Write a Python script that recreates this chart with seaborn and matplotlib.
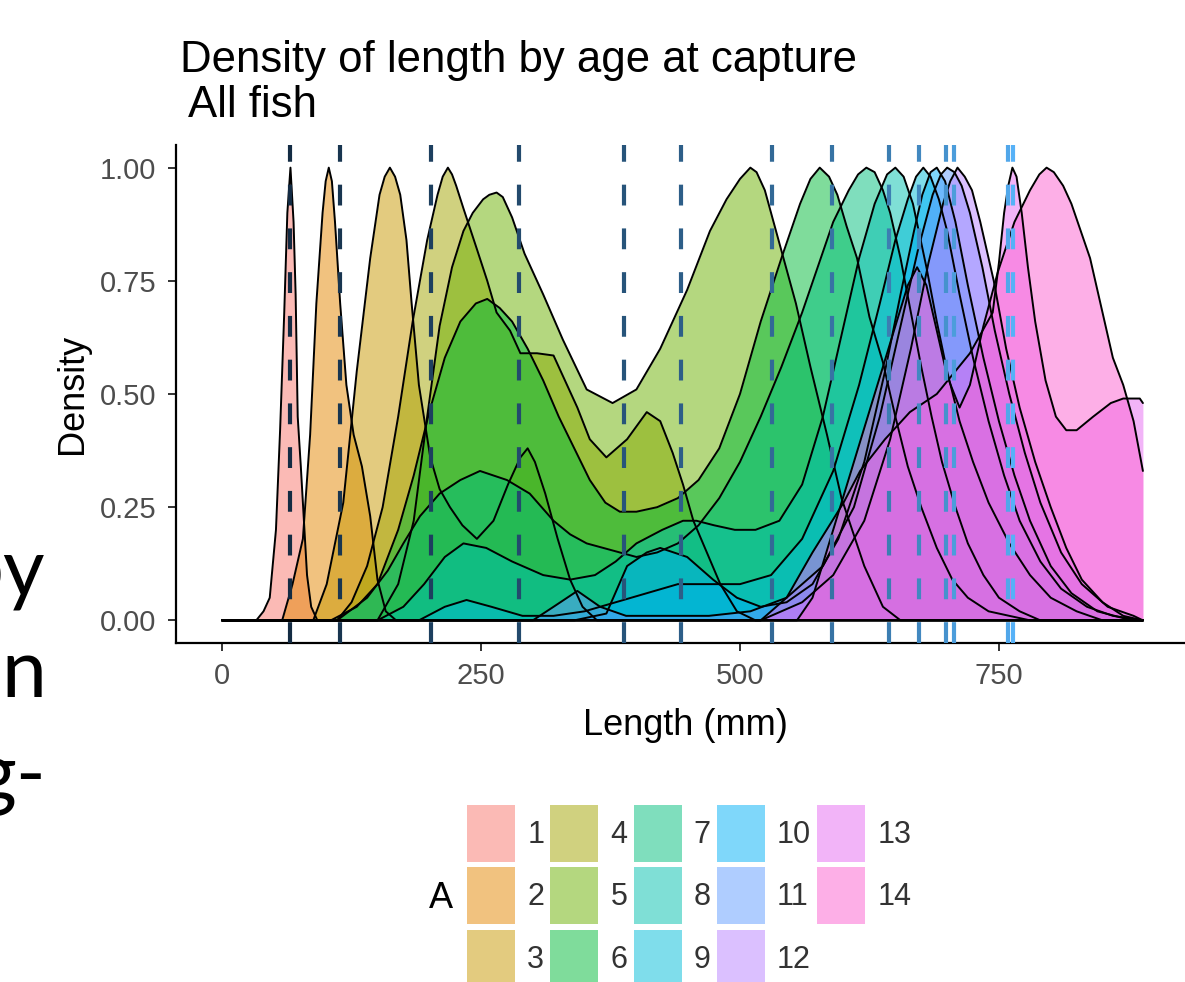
import pandas as pd
import matplotlib
matplotlib.use("Agg")
import matplotlib.pyplot as plt
from matplotlib.patches import Patch
import seaborn as sns

# =========================
# DATA
# =========================
ages = list(range(1, 15))
fill_colors = ["#F8766D", "#E58700", "#C99800", "#A3A500", "#6BB100", "#00BA38", "#00BF7D",
               "#00C0AF", "#00BCD8", "#00B0F6", "#619CFF", "#B983FF", "#E76BF3", "#FD61D1"]
mean_length = [65.6, 113.9, 201.7, 286.7, 388, 443, 531, 589, 644, 673, 699, 707, 759, 764]

x_ticks = [0, 250, 500, 750]
y_ticks = [0, 0.25, 0.5, 0.75, 1.0]
y_tick_labels = ["0.00", "0.25", "0.50", "0.75", "1.00"]

len_a1 = [0, 33, 40, 46, 52, 56, 60, 63, 66, 69, 71, 73, 76, 79, 82, 86, 92, 889]
den_a1 = [0, 0, 0.02, 0.05, 0.2, 0.42, 0.68, 0.9, 1.0, 0.88, 0.72, 0.45, 0.34, 0.22, 0.1, 0.03, 0, 0]

len_a2 = [0, 58, 68, 78, 85, 91, 97, 100, 103, 106, 109, 114, 120, 127, 135, 143, 150, 158, 168, 889]
den_a2 = [0, 0, 0.08, 0.18, 0.41, 0.70, 0.90, 0.97, 1.0, 0.97, 0.88, 0.70, 0.52, 0.41, 0.34, 0.23, 0.09,
          0.02, 0, 0]

len_a3 = [0, 88, 101, 117, 130, 143, 152, 157, 162, 167, 172, 178, 183, 190, 201, 210, 220, 232, 246,
          262, 276, 288, 295, 302, 312, 324, 336, 348, 362, 889]
den_a3 = [0, 0, 0.08, 0.26, 0.55, 0.80, 0.94, 0.98, 1.0, 0.98, 0.94, 0.84, 0.70, 0.52, 0.36, 0.29, 0.25,
          0.21, 0.18, 0.22, 0.30, 0.36, 0.38, 0.35, 0.28, 0.18, 0.09, 0.03, 0, 0]

len_a4 = [0, 111, 125, 140, 155, 170, 184, 198, 208, 213, 218, 222, 226, 233, 246, 256, 265, 278, 288,
          304, 320, 329, 343, 355, 371, 391, 410, 423, 435, 445, 455, 468, 481, 497, 515, 889]
den_a4 = [0, 0, 0.04, 0.12, 0.25, 0.45, 0.66, 0.84, 0.94, 0.98, 1.0, 0.985, 0.96, 0.91, 0.82, 0.75, 0.68,
          0.64, 0.59, 0.59, 0.585, 0.54, 0.47, 0.40, 0.36, 0.40, 0.46, 0.44, 0.37, 0.30, 0.22, 0.15, 0.08,
          0.02, 0, 0]

len_a5 = [0, 150, 170, 185, 198, 210, 222, 233, 242, 252, 258, 265, 271, 280, 292, 310, 329, 352, 377,
          400, 423, 449, 471, 487, 500, 510, 516, 524, 536, 554, 568, 584, 598, 620, 638, 655, 889]
den_a5 = [0, 0, 0.08, 0.22, 0.45, 0.65, 0.78, 0.86, 0.9, 0.93, 0.94, 0.945, 0.935, 0.89, 0.81, 0.72,
          0.62, 0.51, 0.48, 0.51, 0.6, 0.73, 0.86, 0.93, 0.975, 1.0, 0.99, 0.95, 0.85, 0.7, 0.56, 0.41,
          0.27, 0.12, 0.03, 0, 0]

len_a6 = [0, 105, 130, 150, 170, 185, 200, 215, 230, 245, 256, 268, 280, 295, 310, 325, 340, 355,
          370, 384, 400, 420, 440, 460, 480, 500, 520, 540, 558, 568, 577, 586, 594, 603, 613, 625,
          638, 650, 662, 675, 690, 705, 720, 740, 760, 780, 889]
den_a6 = [0, 0, 0.03, 0.08, 0.2, 0.32, 0.46, 0.58, 0.66, 0.70, 0.71, 0.69, 0.66, 0.6, 0.53, 0.45, 0.38,
          0.31, 0.26, 0.24, 0.24, 0.25, 0.27, 0.31, 0.38, 0.5, 0.66, 0.8, 0.92, 0.975, 1.0, 0.98, 0.94,
          0.87, 0.8, 0.67, 0.57, 0.45, 0.34, 0.25, 0.16, 0.09, 0.05, 0.02, 0.01, 0, 0]

len_a7 = [0, 111, 140, 160, 175, 191, 210, 230, 249, 262, 275, 297, 320, 336, 352, 368, 384, 400,
          420, 440, 460, 480, 500, 520, 540, 560, 575, 590, 605, 614, 622, 630, 638, 645, 655, 665,
          675, 685, 695, 708, 720, 735, 750, 770, 790, 889]
den_a7 = [0, 0, 0.05, 0.11, 0.17, 0.23, 0.28, 0.31, 0.33, 0.32, 0.31, 0.28, 0.22, 0.19, 0.17, 0.16,
          0.15, 0.14, 0.15, 0.17, 0.21, 0.27, 0.35, 0.45, 0.56, 0.68, 0.78, 0.88, 0.95, 0.985, 1.0, 0.99,
          0.95, 0.9, 0.8, 0.68, 0.56, 0.45, 0.35, 0.25, 0.17, 0.1, 0.05, 0.02, 0, 0]

len_a8 = [0, 150, 175, 195, 215, 233, 255, 280, 310, 336, 360, 380, 400, 425, 445, 458, 475, 495,
          515, 538, 560, 580, 600, 615, 630, 642, 650, 658, 667, 680, 690, 700, 712, 725, 740, 760,
          780, 800, 825, 850, 889]
den_a8 = [0, 0, 0.03, 0.08, 0.14, 0.17, 0.16, 0.13, 0.1, 0.09, 0.1, 0.13, 0.17, 0.2, 0.22, 0.22, 0.21,
          0.2, 0.2, 0.22, 0.3, 0.45, 0.65, 0.8, 0.92, 0.985, 1.0, 0.98, 0.92, 0.78, 0.66, 0.55, 0.44, 0.35,
          0.26, 0.17, 0.1, 0.05, 0.02, 0, 0]

len_a9 = [0, 190, 215, 236, 260, 290, 320, 350, 380, 410, 440, 470, 500, 530, 560, 590, 615, 635,
          650, 662, 670, 677, 684, 692, 700, 712, 725, 740, 755, 770, 790, 810, 835, 860, 889]
den_a9 = [0, 0, 0.03, 0.045, 0.03, 0.01, 0.01, 0.02, 0.04, 0.06, 0.08, 0.08, 0.08, 0.1, 0.18, 0.33,
          0.52, 0.7, 0.84, 0.93, 0.98, 1.0, 0.98, 0.93, 0.86, 0.72, 0.58, 0.44, 0.32, 0.22, 0.13, 0.07,
          0.03, 0.01, 0]

len_a10 = [0, 340, 371, 391, 410, 423, 449, 474, 497, 520, 545, 570, 595, 620, 640, 655, 668, 676,
           684, 690, 698, 708, 720, 735, 750, 765, 780, 800, 820, 845, 870, 889]
den_a10 = [0, 0, 0.015, 0.12, 0.15, 0.16, 0.14, 0.09, 0.05, 0.03, 0.04, 0.08, 0.18, 0.35, 0.55, 0.72,
           0.86, 0.94, 0.99, 1.0, 0.97, 0.88, 0.74, 0.58, 0.44, 0.32, 0.22, 0.12, 0.06, 0.02, 0.005, 0]

len_a11 = [0, 300, 320, 343, 365, 390, 430, 470, 510, 545, 580, 610, 635, 655, 672, 686, 694, 700,
           707, 714, 722, 734, 746, 760, 775, 790, 810, 830, 855, 880, 889]
den_a11 = [0, 0, 0.03, 0.065, 0.03, 0.01, 0.01, 0.01, 0.02, 0.05, 0.12, 0.25, 0.45, 0.65, 0.82, 0.94,
           0.985, 1.0, 0.99, 0.96, 0.9, 0.78, 0.64, 0.5, 0.37, 0.26, 0.15, 0.08, 0.03, 0.01, 0]

len_a12 = [0, 520, 560, 590, 620, 645, 665, 682, 696, 703, 710, 717, 724, 732, 745, 757, 770, 785, 800,
           815, 830, 850, 870, 889]
den_a12 = [0, 0, 0.04, 0.1, 0.22, 0.4, 0.6, 0.79, 0.92, 0.97, 1.0, 0.98, 0.95, 0.88, 0.75, 0.6, 0.47,
           0.35, 0.25, 0.16, 0.09, 0.04, 0.01, 0]

len_a13 = [0, 520, 545, 570, 600, 616, 640, 664, 690, 722, 744, 750, 755, 759, 763, 767, 772, 778,
           785, 795, 805, 815, 825, 841, 858, 870, 886, 889]
den_a13 = [0, 0, 0.05, 0.15, 0.26, 0.33, 0.4, 0.46, 0.5, 0.59, 0.68, 0.79, 0.9, 0.96, 1.0, 0.98, 0.9,
           0.78, 0.66, 0.53, 0.45, 0.42, 0.42, 0.45, 0.48, 0.49, 0.49, 0.48]

len_a14 = [0, 555, 570, 590, 610, 630, 650, 662, 671, 680, 690, 700, 712, 722, 735, 749, 765, 780,
           789, 796, 803, 812, 820, 838, 850, 860, 870, 880, 889]
den_a14 = [0, 0, 0.05, 0.2, 0.35, 0.5, 0.65, 0.74, 0.78, 0.74, 0.64, 0.54, 0.47, 0.52, 0.65, 0.77,
           0.88, 0.95, 0.985, 1.0, 0.99, 0.96, 0.92, 0.8, 0.68, 0.58, 0.52, 0.44, 0.33]

curves = [(len_a1, den_a1), (len_a2, den_a2), (len_a3, den_a3), (len_a4, den_a4),
          (len_a5, den_a5), (len_a6, den_a6), (len_a7, den_a7), (len_a8, den_a8),
          (len_a9, den_a9), (len_a10, den_a10), (len_a11, den_a11), (len_a12, den_a12),
          (len_a13, den_a13), (len_a14, den_a14)]

rows = []
for a, (xs, ys) in zip(ages, curves):
    for x, y in zip(xs, ys):
        rows.append((a, x, y))
df = pd.DataFrame(rows, columns=["A", "length", "density"])

# =========================
# GRAFİK
# =========================
sns.set_theme(style="ticks")
plt.rcParams["font.family"] = ["Liberation Sans", "DejaVu Sans"]
plt.rcParams["text.color"] = "black"
plt.rcParams["axes.labelcolor"] = "black"

W, H = 1185, 982
fig = plt.figure(figsize=(W / 100, H / 100), dpi=100)
ax = fig.add_axes([176 / W, 1 - 643 / H, (1189 - 176) / W, (643 - 145) / H])

for i, a in enumerate(ages):
    d = df[df["A"] == a]
    ax.fill_between(d["length"], d["density"], 0, color=fill_colors[i], alpha=0.5,
                    lw=0, zorder=2 + i)

# outlines on top of the fills
sns.lineplot(data=df, x="length", y="density", units="A", estimator=None, sort=False,
             color="black", lw=1.4, ax=ax, legend=False, zorder=30)

line_colors = sns.blend_palette(["#132B43", "#56B1F7"], n_colors=len(ages))
for i, m in enumerate(mean_length):
    ax.axvline(m, color=line_colors[i], lw=3, ls=(0, (5, 5.5)), zorder=50)

ax.set_xlim(-44.5, 933.5)
ax.set_ylim(-0.05, 1.05)
ax.set_xticks(x_ticks)
ax.set_yticks(y_ticks)
ax.set_yticklabels(y_tick_labels)
sns.despine(ax=ax)
for s in ["left", "bottom"]:
    ax.spines[s].set_linewidth(1.6)
    ax.spines[s].set_color("black")
ax.tick_params(length=6, width=1.4, color="#333333", labelsize=21,
               labelcolor="#4D4D4D", pad=8)
ax.set_xlabel("Length (mm)", fontsize=26)
ax.set_ylabel("Density", fontsize=26)
ax.xaxis.set_label_coords(0.503, -0.13)
ax.yaxis.set_label_coords(-0.085, 0.5)

fig.text(180 / W, 1 - 72 / H, "Density of length by age at capture", fontsize=31.5, va="baseline")
fig.text(188 / W, 1 - 117 / H, "All fish", fontsize=31.5, va="baseline")

# legend
handles = [Patch(facecolor=c, alpha=0.5, edgecolor="none") for c in fill_colors]
fig.legend(handles, [str(a) for a in ages], ncol=5, loc="upper left",
           bbox_to_anchor=(467 / W, 1 - 805 / H), frameon=False, fontsize=22,
           labelcolor="#333333",
           handlelength=1.57, handleheight=2.49, labelspacing=0.18,
           handletextpad=0.4, columnspacing=0.2, borderpad=0, borderaxespad=0)
fig.text(441 / W, 1 - 898 / H, "A", fontsize=26, ha="center", va="center")

# slide text behind the chart
for txt, yb, xr in [("by", 596, 45), ("n", 697, 46), ("g-", 800, 46)]:
    fig.text(xr / W, 1 - yb / H, txt, fontsize=58, ha="right", va="baseline",
             family=["Lato", "DejaVu Sans"])

plt.savefig("out.png", dpi=100)
plt.close()
